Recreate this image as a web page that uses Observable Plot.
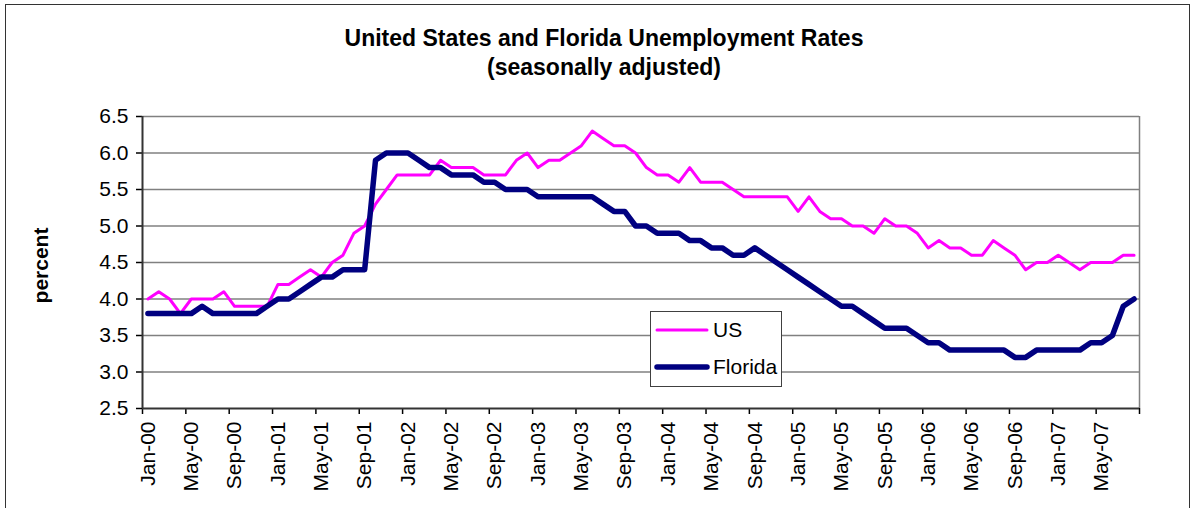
<!DOCTYPE html>
<html><head><meta charset="utf-8">
<script src="https://cdn.jsdelivr.net/npm/d3@7"></script>
<script src="https://cdn.jsdelivr.net/npm/@observablehq/plot@0.6"></script>
<style>
body{margin:0;background:#fff;font-family:"Liberation Sans",Arial,sans-serif;}
#wrap{position:relative;width:1197px;height:508px;overflow:hidden;background:#fff;}
#frame{position:absolute;left:5px;top:4px;width:1183px;height:600px;border:1.5px solid #333;}
#title{position:absolute;left:0;top:24px;width:1208px;text-align:center;font-weight:bold;font-size:23px;line-height:29px;color:#000;}
#chart{position:absolute;left:0;top:90px;}
#legend{position:absolute;left:650px;top:311px;width:130px;height:74px;background:#fff;border:1px solid #404040;}
#legend svg{position:absolute;left:0;top:0;}
</style></head>
<body>
<div id="wrap">
<div id="frame"></div>
<div id="title">United States and Florida Unemployment Rates<br>(seasonally adjusted)</div>
<div id="chart"></div>
<div id="legend"></div>
</div>
<script>
// Categories: monthly Jan-00 .. Aug-07
const monthNames = ["Jan","Feb","Mar","Apr","May","Jun","Jul","Aug","Sep","Oct","Nov","Dec"];
const years = ["00","01","02","03","04","05","06","07"];
const categories = [];
for (const yr of years) for (const m of monthNames) categories.push(m + "-" + yr);
categories.length = 92; // through Aug-07

const us = [
  4.0, 4.1, 4.0, 3.8, 4.0, 4.0, 4.0, 4.1, 3.9, 3.9, 3.9, 3.9,
  4.2, 4.2, 4.3, 4.4, 4.3, 4.5, 4.6, 4.9, 5.0, 5.3, 5.5, 5.7,
  5.7, 5.7, 5.7, 5.9, 5.8, 5.8, 5.8, 5.7, 5.7, 5.7, 5.9, 6.0,
  5.8, 5.9, 5.9, 6.0, 6.1, 6.3, 6.2, 6.1, 6.1, 6.0, 5.8, 5.7,
  5.7, 5.6, 5.8, 5.6, 5.6, 5.6, 5.5, 5.4, 5.4, 5.4, 5.4, 5.4,
  5.2, 5.4, 5.2, 5.1, 5.1, 5.0, 5.0, 4.9, 5.1, 5.0, 5.0, 4.9,
  4.7, 4.8, 4.7, 4.7, 4.6, 4.6, 4.8, 4.7, 4.6, 4.4, 4.5, 4.5,
  4.6, 4.5, 4.4, 4.5, 4.5, 4.5, 4.6, 4.6
];
const florida = [
  3.8, 3.8, 3.8, 3.8, 3.8, 3.9, 3.8, 3.8, 3.8, 3.8, 3.8, 3.9,
  4.0, 4.0, 4.1, 4.2, 4.3, 4.3, 4.4, 4.4, 4.4, 5.9, 6.0, 6.0,
  6.0, 5.9, 5.8, 5.8, 5.7, 5.7, 5.7, 5.6, 5.6, 5.5, 5.5, 5.5,
  5.4, 5.4, 5.4, 5.4, 5.4, 5.4, 5.3, 5.2, 5.2, 5.0, 5.0, 4.9,
  4.9, 4.9, 4.8, 4.8, 4.7, 4.7, 4.6, 4.6, 4.7, 4.6, 4.5, 4.4,
  4.3, 4.2, 4.1, 4.0, 3.9, 3.9, 3.8, 3.7, 3.6, 3.6, 3.6, 3.5,
  3.4, 3.4, 3.3, 3.3, 3.3, 3.3, 3.3, 3.3, 3.2, 3.2, 3.3, 3.3,
  3.3, 3.3, 3.3, 3.4, 3.4, 3.5, 3.9, 4.0
];
const yTicks = [2.5, 3.0, 3.5, 4.0, 4.5, 5.0, 5.5, 6.0, 6.5];
const tickEvery = 4;
const seriesNames = ["US", "Florida"];
const seriesColors = ["#ff00ff", "#000080"];
const seriesWidths = [3, 5.5];

const n = categories.length;
const usRows = us.map((v, i) => ({pos: i + 0.5, value: v, month: categories[i]}));
const flRows = florida.map((v, i) => ({pos: i + 0.5, value: v, month: categories[i]}));
const boundaryTicks = d3.range(0, n + 1, tickEvery);
const labelTicks = d3.range(0, n, tickEvery).map(i => i + 0.5);

const chart = Plot.plot({
  width: 1197, height: 418,
  marginLeft: 142, marginRight: 58, marginTop: 26, marginBottom: 100,
  style: {fontFamily: "'Liberation Sans', Arial, sans-serif", fontSize: "20px", color: "#000", background: "transparent", overflow: "visible"},
  x: {type: "linear", domain: [0, n], axis: null},
  y: {domain: [2.5, 6.5], axis: null},
  marks: [
    Plot.gridY(yTicks.slice(1), {stroke: "#808080", strokeOpacity: 1, strokeWidth: 1.5}),
    Plot.ruleX([n], {stroke: "#808080", strokeWidth: 1.5}),
    Plot.axisY(yTicks, {anchor: "left", tickSize: 6, tickPadding: 8, tickFormat: d => d.toFixed(1), fontSize: 21, label: null, strokeWidth: 1.5}),
    Plot.axisX(boundaryTicks, {anchor: "bottom", tickSize: 6, tickFormat: () => "", label: null, strokeWidth: 1.5}),
    Plot.axisX(labelTicks, {anchor: "bottom", tickSize: 0, tickPadding: 13, tickRotate: -90, tickFormat: v => categories[Math.round(v - 0.5)], label: null, fontSize: 21}),
    Plot.ruleY([2.5], {stroke: "#333", strokeWidth: 2}),
    Plot.ruleX([0], {stroke: "#333", strokeWidth: 2}),
    Plot.line(usRows, {x: "pos", y: "value", stroke: seriesColors[0], strokeWidth: seriesWidths[0], strokeLinejoin: "round"}),
    Plot.line(flRows, {x: "pos", y: "value", stroke: seriesColors[1], strokeWidth: seriesWidths[1], strokeLinejoin: "round"}),
    Plot.text(["percent"], {frameAnchor: "left", dx: -101, dy: 3, rotate: -90, textAnchor: "middle", text: d => d, fontWeight: "bold", fontSize: 21})
  ]
});
document.getElementById("chart").appendChild(chart);

// Legend (inside plot area, as in the reference)
const ns = "http://www.w3.org/2000/svg";
const lsvg = document.createElementNS(ns, "svg");
lsvg.setAttribute("width", 130); lsvg.setAttribute("height", 74);
seriesNames.forEach((name, k) => {
  const cy = k === 0 ? 18 : 55;
  const ln = document.createElementNS(ns, "line");
  ln.setAttribute("x1", 6); ln.setAttribute("x2", 56);
  ln.setAttribute("y1", cy); ln.setAttribute("y2", cy);
  ln.setAttribute("stroke", seriesColors[k]);
  ln.setAttribute("stroke-width", seriesWidths[k]);
  ln.setAttribute("stroke-linecap", "round");
  lsvg.appendChild(ln);
  const tx = document.createElementNS(ns, "text");
  tx.setAttribute("x", 62); tx.setAttribute("y", cy + 7);
  tx.setAttribute("font-size", 21);
  tx.setAttribute("font-family", "'Liberation Sans', Arial, sans-serif");
  tx.textContent = name;
  lsvg.appendChild(tx);
});
document.getElementById("legend").appendChild(lsvg);
</script>
</body></html>
